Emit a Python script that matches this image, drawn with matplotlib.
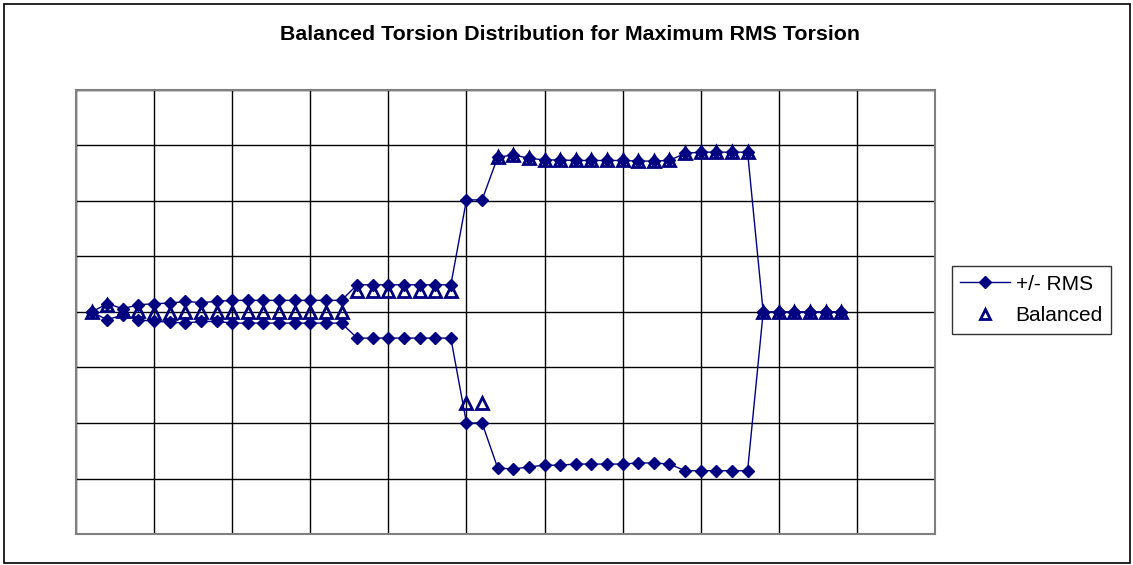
import matplotlib
matplotlib.use('Agg')
import matplotlib.pyplot as plt
from matplotlib.patches import Rectangle

plt.rcParams['font.family'] = ['Liberation Sans', 'DejaVu Sans']

# data (49 stations, arbitrary units)
station = list(range(1, 50))
rms_plus = [0, 0.15, 0.06, 0.13, 0.15, 0.16, 0.19, 0.17, 0.19, 0.21,
            0.21, 0.21, 0.21, 0.21, 0.21, 0.21, 0.21,
            0.49, 0.49, 0.49, 0.49, 0.49, 0.49, 0.49,
            2.02, 2.02,
            2.79, 2.83, 2.77, 2.74, 2.74, 2.73, 2.73, 2.73, 2.73, 2.72,
            2.72, 2.73, 2.86, 2.88, 2.88, 2.88, 2.88,
            0, 0, 0, 0, 0, 0]
rms_minus = [0, -0.14, -0.05, -0.14, -0.17, -0.18, -0.2, -0.17, -0.17, -0.2,
             -0.2, -0.2, -0.2, -0.2, -0.2, -0.2, -0.2,
             -0.47, -0.47, -0.47, -0.47, -0.47, -0.47, -0.47,
             -2.0, -2.0,
             -2.81, -2.83, -2.79, -2.76, -2.76, -2.74, -2.74, -2.74, -2.74, -2.72,
             -2.72, -2.74, -2.86, -2.86, -2.86, -2.86, -2.86,
             0, 0, 0, 0, 0, 0]
balanced = [0, 0.12, 0.02, 0.02, -0.01, -0.01, 0, 0, 0, 0,
            0, 0, 0, 0, 0, 0, 0,
            0.38, 0.38, 0.38, 0.38, 0.38, 0.38, 0.38,
            -1.64, -1.64,
            2.79, 2.83, 2.77, 2.74, 2.74, 2.73, 2.73, 2.73, 2.73, 2.72,
            2.72, 2.73, 2.86, 2.88, 2.88, 2.88, 2.88,
            0, 0, 0, 0, 0, 0]

navy = '#000080'

fig = plt.figure(figsize=(11.33, 5.65), dpi=100)
ax = fig.add_axes([76 / 1133, 1 - 534 / 565, 859 / 1133, 444 / 565])

# +/- RMS band, drawn as two lines with one legend entry
ax.plot(station, rms_plus, color=navy, lw=1, marker='D', markersize=6.5,
        label='+/- RMS', zorder=3)
ax.plot(station, rms_minus, color=navy, lw=1, marker='D', markersize=6.5,
        zorder=3)
# open triangles, no fill (gridlines show through)
ax.plot(station, balanced, linestyle='none', marker='^', markersize=8.5,
        markerfacecolor='none', markeredgecolor=navy, markeredgewidth=2,
        label='Balanced', zorder=4)

ax.set_xlim(0, 55)
ax.set_ylim(-4, 4)
ax.set_xticks(range(0, 56, 5))
ax.set_yticks(range(-4, 5))
ax.tick_params(length=0, labelbottom=False, labelleft=False)
ax.grid(True, color='black', linewidth=1)
ax.set_axisbelow(True)
for sp in ax.spines.values():
    sp.set_color('#808080')
    sp.set_linewidth(1.5)

fig.text(0.5035, 1 - 35 / 565, 'Balanced Torsion Distribution for Maximum RMS Torsion',
         ha='center', va='center', fontsize=15.4, fontweight='bold')

leg = ax.legend(loc='center left', bbox_to_anchor=(952 / 1133, 1 - 300 / 565),
                bbox_transform=fig.transFigure, fontsize=15, frameon=True,
                fancybox=False, edgecolor='black', handlelength=2.4,
                borderaxespad=0, borderpad=0.4, labelspacing=0.6,
                handletextpad=0.25)
leg.legend_handles[1].set_markersize(7.5)

# outer chart border
fig.patches.append(Rectangle((4 / 1133, 2 / 565), 1126 / 1133, 559 / 565,
                             transform=fig.transFigure, fill=False,
                             edgecolor='black', linewidth=1.2))

fig.savefig('out.png', dpi=100)
